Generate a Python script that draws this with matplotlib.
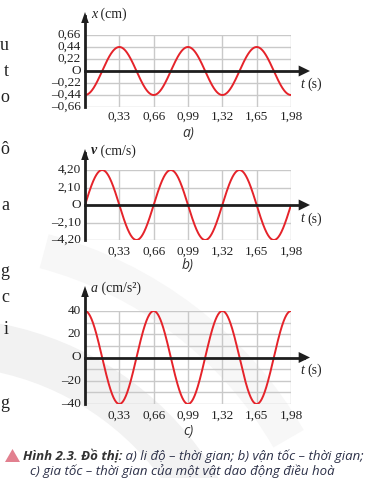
import numpy as np
import matplotlib
matplotlib.use("Agg")
import matplotlib.pyplot as plt
from matplotlib import transforms
from matplotlib.patches import Polygon, Wedge

# ---- data ----
t_ticks = [0.33, 0.66, 0.99, 1.32, 1.65, 1.98]
t_tick_labels = ["0,33", "0,66", "0,99", "1,32", "1,65", "1,98"]
period = 0.66          # s
t_max = 1.98

x_amp = 0.44           # cm, x = -A cos(wt)
x_ticks = [0.66, 0.44, 0.22, 0, -0.22, -0.44, -0.66]
x_tick_labels = ["0,66", "0,44", "0,22", "O", "\u20130,22", "\u20130,44", "\u20130,66"]
x_grid = [-0.66, -0.44, -0.22, 0.22, 0.44, 0.66]

v_amp = 4.20           # cm/s, v = A w sin(wt)
v_ticks = [4.20, 2.10, 0, -2.10, -4.20]
v_tick_labels = ["4,20", "2,10", "O", "\u20132,10", "\u20134,20"]
v_grid = [-4.2, -2.1, 2.1, 4.2]

a_amp = 40             # cm/s^2, a = A w^2 cos(wt)
a_ticks = [40, 20, 0, -20, -40]
a_tick_labels = ["40", "20", "O", "\u201320", "\u201340"]
a_grid = [-40, -30, -20, -10, 10, 20, 30, 40]

W, H = 370, 478
fig = plt.figure(figsize=(W / 100, H / 100), dpi=100)
fig.patch.set_facecolor("white")

def fx(x):
    return x / W

def fy(y):
    return 1 - y / H

# background watermark band
bg = fig.add_axes([0, 0, 1, 1], zorder=-10)
bg.set_xlim(0, W)
bg.set_ylim(H, 0)
bg.axis("off")
bg.add_patch(Wedge((-60, 640), 322, 270, 360, width=48, facecolor="#f2f2f2", edgecolor="none"))
bg.add_patch(Wedge((-60, 640), 420, 285, 330, width=35, facecolor="#f7f7f7", edgecolor="none"))

# margin letters (ends of the page's body text)
margin_letters = [("u", 45), ("t", 72), ("o", 98), ("\u00f4", 150), ("a", 205), ("g", 272),
                  ("c", 298), ("i", 330), ("g", 403)]
for ch, yy in margin_letters:
    fig.text(fx(9), fy(yy), ch, ha="right", va="center", fontsize=13,
             family="Liberation Serif", color="#222222")

serif = "Liberation Serif"
red = "#e5232a"
axis_col = "#1e1e1e"
grid_col = "#c9c9c9"

t = np.linspace(0, t_max, 600)
w = 2 * np.pi / period

panels = [
    dict(top=35, bottom=107, lim=0.66, y=-x_amp * np.cos(w * t), ticks=x_ticks, labels=x_tick_labels,
         grid=x_grid, arrow_top=12, ylab=[("x", "italic", "normal"), (" (cm)", "normal", "normal")],
         tlab_y=117, sub="a)", sub_y=134, ts_y=84),
    dict(top=170, bottom=240, lim=4.2, y=v_amp * np.sin(w * t), ticks=v_ticks, labels=v_tick_labels,
         grid=v_grid, arrow_top=149, ylab=[("v", "italic", "bold"), (" (cm/s)", "normal", "normal")],
         tlab_y=252, sub="b)", sub_y=266, ts_y=219),
    dict(top=311, bottom=404, lim=40, y=a_amp * np.cos(w * t), ticks=a_ticks, labels=a_tick_labels,
         grid=a_grid, arrow_top=286, ylab=[("a", "italic", "normal"), (" (cm/s\u00b2)", "normal", "normal")],
         tlab_y=416, sub="c)", sub_y=432, ts_y=370),
]

left, right = 85, 291
for p in panels:
    ax = fig.add_axes([fx(left), fy(p["bottom"]), fx(right) - fx(left), (p["bottom"] - p["top"]) / H])
    ax.set_xlim(0, t_max)
    ax.set_ylim(-p["lim"], p["lim"])
    for s in ax.spines.values():
        s.set_visible(False)
    ax.set_xticks([])
    ax.set_yticks([])
    ax.patch.set_alpha(0)
    for g in p["grid"]:
        ax.axhline(g, color=grid_col, lw=1.0, zorder=1)
    for tt in t_ticks:
        ax.axvline(tt, color=grid_col, lw=1.0, zorder=1)
    ax.plot(t, p["y"], color=red, lw=1.4, zorder=3, solid_capstyle="butt")

    h = p["bottom"] - p["top"]
    bl = transforms.blended_transform_factory(ax.transAxes, ax.transData)
    # x axis with arrow
    tip = 1 + (310 - right) / (right - left)
    ax.plot([0, tip - 0.03], [0, 0], color=axis_col, lw=2.0, transform=bl, clip_on=False, zorder=4)
    ax.add_patch(Polygon([[tip, 0], [tip - 0.055, p["lim"] * 5.5 / (h / 2)],
                          [tip - 0.055, -p["lim"] * 5.5 / (h / 2)]], closed=True,
                         transform=bl, facecolor=axis_col, edgecolor="none", clip_on=False, zorder=4))
    # y axis with arrow
    ytip = 1 + (p["top"] - p["arrow_top"]) / h
    ax.plot([0, 0], [0, ytip - 0.06], color=axis_col, lw=2.0, transform=ax.transAxes,
            clip_on=False, zorder=4)
    dx = 3.8 / (right - left)
    dy = 11 / h
    ax.add_patch(Polygon([[0, ytip], [-dx, ytip - dy], [dx, ytip - dy]], closed=True,
                         transform=ax.transAxes, facecolor=axis_col, edgecolor="none",
                         clip_on=False, zorder=4))

    # tick labels
    for v, lab in zip(p["ticks"], p["labels"]):
        ax.text(-0.02, v, lab, transform=bl, ha="right", va="center", fontsize=9.5,
                family=serif, color="#222222")
    tb = transforms.blended_transform_factory(ax.transData, fig.transFigure)
    for tt, lab in zip(t_ticks, t_tick_labels):
        ax.text(tt, fy(p["tlab_y"]), lab, transform=tb,
                ha="center", va="center", fontsize=9.5, family=serif, color="#222222")

    # axis titles
    xpos = 91
    yy = fy(p["arrow_top"] + 2)
    txt = fig.text(fx(xpos), yy, p["ylab"][0][0], ha="left", va="center", fontsize=10,
                   family=serif, style=p["ylab"][0][1], weight=p["ylab"][0][2], color="#222222")
    fig.canvas.draw()
    bb = txt.get_window_extent()
    fig.text(bb.x1 / fig.dpi / fig.get_figwidth(), yy, p["ylab"][1][0], ha="left", va="center",
             fontsize=10, family=serif, color="#222222")
    fig.text(fx(300), fy(p["ts_y"]), "t", ha="left", va="center", fontsize=10, family=serif,
             style="italic", color="#222222")
    fig.text(fx(307), fy(p["ts_y"]), "(s)", ha="left", va="center", fontsize=10, family=serif,
             color="#222222")
    fig.text(fx(188), fy(p["sub_y"]), p["sub"], ha="center", va="center", fontsize=10,
             family="Open Sans", style="italic", color="#333333")

# caption
bg.add_patch(Polygon([[5, 462], [12.5, 449], [20, 462]], closed=True, facecolor="#e2808f",
                     edgecolor="none"))
cap_fs = 9.5
t1 = fig.text(fx(23), fy(456), "H\u00ecnh 2.3. \u0110\u1ed3 th\u1ecb:", ha="left", va="center",
              fontsize=cap_fs, family="Open Sans", style="italic", weight="bold", color="#333333")
fig.canvas.draw()
bb = t1.get_window_extent()
fig.text(bb.x1 / fig.dpi / fig.get_figwidth(), fy(456),
         " a) li \u0111\u1ed9 \u2013 th\u1eddi gian; b) v\u1eadn t\u1ed1c \u2013 th\u1eddi gian;",
         ha="left", va="center", fontsize=cap_fs, family="Open Sans", style="italic", color="#2c3048")
fig.text(fx(30), fy(471),
         "c) gia t\u1ed1c \u2013 th\u1eddi gian c\u1ee7a m\u1ed9t v\u1eadt dao \u0111\u1ed9ng \u0111i\u1ec1u ho\u00e0",
         ha="left", va="center", fontsize=cap_fs, family="Open Sans", style="italic", color="#2c3048")

fig.savefig("out.png", dpi=100, facecolor="white")
